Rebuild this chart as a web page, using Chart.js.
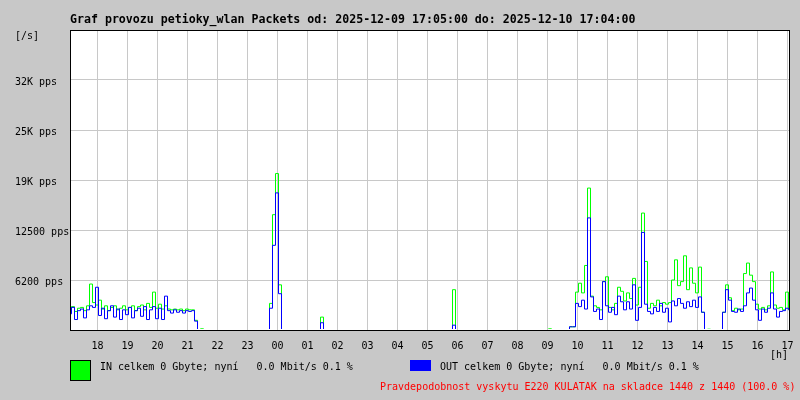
<!DOCTYPE html>
<html>
<head>
<meta charset="utf-8">
<script src="https://cdn.jsdelivr.net/npm/chart.js@4/dist/chart.umd.min.js"></script>
<style>
  body { margin: 0; background: #c8c8c8; }
  #obal { position: relative; width: 800px; height: 400px; font-family: "DejaVu Sans Mono", monospace; font-size: 10px; color: #000; }
  canvas { position: absolute; left: 0; top: 0; }
  .txt { position: absolute; white-space: pre; line-height: 12px; }
</style>
</head>
<body>
<div id="obal">
  <canvas id="graf" width="800" height="400"></canvas>
  <div class="txt" style="left:70px;top:13px;font-weight:bold;font-size:11.6px;">Graf provozu petioky_wlan Packets od: 2025-12-09 17:05:00 do: 2025-12-10 17:04:00</div>
  <div class="txt" style="left:15px;top:30px;">[/s]</div>
  <div class="txt" style="left:770px;top:349px;">[h]</div>
  <div style="position:absolute;left:70px;top:360px;width:19px;height:19px;background:#00ff00;border:1px solid #000;"></div>
  <div class="txt" style="left:100px;top:361px;">IN celkem 0 Gbyte; nyní   0.0 Mbit/s 0.1 %</div>
  <div style="position:absolute;left:410px;top:360px;width:21px;height:11px;background:#0000ff;"></div>
  <div class="txt" style="left:440px;top:361px;">OUT celkem 0 Gbyte; nyní   0.0 Mbit/s 0.1 %</div>
  <div class="txt" style="left:380px;top:381px;color:#ff0000;">Pravdepodobnost vyskytu E220 KULATAK na skladce 1440 z 1440 (100.0 %)</div>
</div>
<script>
// data - jeden vzorek kazdych 6 minut od 17:05 (pps)
const krokMinut = 6;

const prichoziIN = [
  2400,2900,2300,2700,2800,2400,3000,5700,3400,3100,   // 0
  3700,2600,3000,2400,2800,3000,2500,2700,3000,2500,   // 10
  2800,3000,2400,2900,3100,2500,3300,2800,4700,2700,   // 20
  3200,2600,3000,2600,2500,2600,2500,2600,2400,2600,   // 30
  2500,2500,1200,0,150,0,0,0,0,0,                      // 40
  0,0,0,0,0,0,0,0,0,0,                                 // 50
  0,0,0,0,0,0,0,3300,14300,19400,                      // 60
  5600,0,0,0,0,0,0,0,0,0,                              // 70
  0,0,0,0,1600,0,0,0,0,0,                              // 80
  0,0,0,0,0,0,0,0,0,0,                                 // 90
  0,0,0,0,0,0,0,0,0,0,                                 // 100
  0,0,0,0,0,0,0,0,0,0,                                 // 110
  0,0,0,0,0,0,0,0,5000,0,                              // 120
  0,0,0,0,0,0,0,0,0,0,                                 // 130
  0,0,0,0,0,0,0,0,0,0,                                 // 140
  0,0,0,0,0,0,0,0,0,0,                                 // 150
  150,0,0,0,0,0,0,400,400,4700,                        // 160
  5800,4600,8000,17600,4200,3000,2800,2500,6000,6600,  // 170
  2800,2500,3300,5300,4800,3600,4600,3900,6400,3100,   // 180
  5300,14500,8500,2700,3300,3000,3700,3000,3400,3200,  // 190
  3400,6200,8700,5500,6000,9200,5000,7700,5800,4600,   // 200
  7800,2200,0,100,0,0,0,0,2200,5600,                   // 210
  4000,2400,2700,2500,2600,7000,8300,6800,6000,3200,   // 220
  2600,2800,2500,3000,7200,3100,2700,2800,2500,4700,   // 230
  2600                                                 // 240
];

const odchoziOUT = [
  2000,2800,1300,2400,2600,1500,2500,3000,2800,5300,   // 0
  1800,2700,1400,2400,3000,1600,2600,1300,2500,1900,   // 10
  2800,1500,2400,2700,1700,2900,1300,2500,2900,1400,   // 20
  2700,1300,4200,2400,2100,2500,2200,2400,2100,2400,   // 30
  2300,2400,1100,0,0,0,0,0,0,0,                        // 40
  0,0,0,0,0,0,0,0,0,0,                                 // 50
  0,0,0,0,0,0,0,2700,10500,17000,                      // 60
  4500,0,0,0,0,0,0,0,0,0,                              // 70
  0,0,0,0,900,0,0,0,0,0,                               // 80
  0,0,0,0,0,0,0,0,0,0,                                 // 90
  0,0,0,0,0,0,0,0,0,0,                                 // 100
  0,0,0,0,0,0,0,0,0,0,                                 // 110
  0,0,0,0,0,0,0,0,600,0,                               // 120
  0,0,0,0,0,0,0,0,0,0,                                 // 130
  0,0,0,0,0,0,0,0,0,0,                                 // 140
  0,0,0,0,0,0,0,0,0,0,                                 // 150
  0,0,0,0,0,0,0,400,400,3300,                          // 160
  2900,3700,2600,13900,4100,2300,2600,1300,6000,3000,  // 170
  2200,2800,1900,4200,3500,2500,3500,2600,5600,1200,   // 180
  2800,12100,3200,2300,2000,2800,2300,3300,2200,2700,  // 190
  1000,3600,3000,3900,3300,2700,3500,2900,3700,2800,   // 200
  4100,2200,0,0,0,0,0,0,2200,5000,                     // 210
  3700,2300,2200,2600,2300,3000,4600,5200,3700,2500,   // 220
  1200,2600,2200,2700,4600,2600,1600,2300,2400,2700,   // 230
  2500                                                 // 240
];

// osa x - cele hodiny (minuty od 17:05)
const hodinyMinuty = [55,115,175,235,295,355,415,475,535,595,655,715,775,835,895,955,1015,1075,1135,1195,1255,1315,1375,1435];
const hodinyPopisky = ['18','19','20','21','22','23','00','01','02','03','04','05','06','07','08','09','10','11','12','13','14','15','16','17'];

// osa y
const hodnotyOsyY = [6200, 12400, 18600, 24800, 31000];
const popiskyOsyY = ['6200 pps', '12500 pps', '19K pps', '25K pps', '32K pps'];
const maxOsyY = 37200;

function naBody(pole) {
  return pole.map((v, i) => ({ x: i * krokMinut, y: v }));
}

// bile pole grafu a cerny ramecek
const ramecek = {
  id: 'ramecek',
  beforeDraw(chart) {
    const a = chart.chartArea;
    const c = chart.ctx;
    c.save();
    c.fillStyle = '#ffffff';
    c.fillRect(a.left, a.top, a.right - a.left, a.bottom - a.top);
    c.restore();
  },
  afterDraw(chart) {
    const a = chart.chartArea;
    const c = chart.ctx;
    c.save();
    c.strokeStyle = '#000000';
    c.lineWidth = 1;
    c.strokeRect(a.left + 0.5, a.top + 0.5, a.right - a.left - 1, a.bottom - a.top);
    c.restore();
  }
};

Chart.defaults.font.family = '"DejaVu Sans Mono", monospace';
Chart.defaults.font.size = 10;
Chart.defaults.color = '#000000';

const ctx = document.getElementById('graf').getContext('2d');
const graf = new Chart(ctx, {
  type: 'line',
  data: {
    datasets: [
      {
        label: 'OUT',
        data: naBody(odchoziOUT),
        borderColor: '#0000ff',
        borderWidth: 1,
        pointRadius: 0,
        stepped: 'middle',
        fill: false,
        order: 0,
        clip: { left: 0, top: 0, right: 0, bottom: -1 }
      },
      {
        label: 'IN',
        data: naBody(prichoziIN),
        borderColor: '#00ff00',
        borderWidth: 1,
        pointRadius: 0,
        stepped: 'middle',
        fill: false,
        order: 1,
        clip: { left: 0, top: 0, right: 0, bottom: -1 }
      }
    ]
  },
  options: {
    responsive: false,
    animation: false,
    devicePixelRatio: 1,
    layout: { padding: { left: 15, right: 10, top: 30, bottom: 0 } },
    plugins: { legend: { display: false }, tooltip: { enabled: false }, title: { display: false } },
    scales: {
      x: {
        type: 'linear',
        min: 0,
        max: 1440,
        afterBuildTicks: (osa) => { osa.ticks = hodinyMinuty.map(v => ({ value: v })); },
        afterFit: (osa) => { osa.height = 70; osa.paddingLeft = 0; osa.paddingRight = 0; },
        ticks: {
          autoSkip: false,
          maxRotation: 0,
          padding: 10,
          callback: (v, i) => hodinyPopisky[i]
        },
        grid: { color: '#c8c8c8', drawTicks: false },
        border: { display: false }
      },
      y: {
        min: 0,
        max: maxOsyY,
        afterBuildTicks: (osa) => { osa.ticks = hodnotyOsyY.map(v => ({ value: v })); },
        afterFit: (osa) => { osa.width = 55; osa.paddingTop = 0; osa.paddingBottom = 0; },
        ticks: {
          crossAlign: 'far',
          padding: 0,
          labelOffset: 2,
          callback: (v, i) => popiskyOsyY[i]
        },
        grid: { color: '#c8c8c8', drawTicks: false },
        border: { display: false }
      }
    }
  },
  plugins: [ramecek]
});
</script>
</body>
</html>
